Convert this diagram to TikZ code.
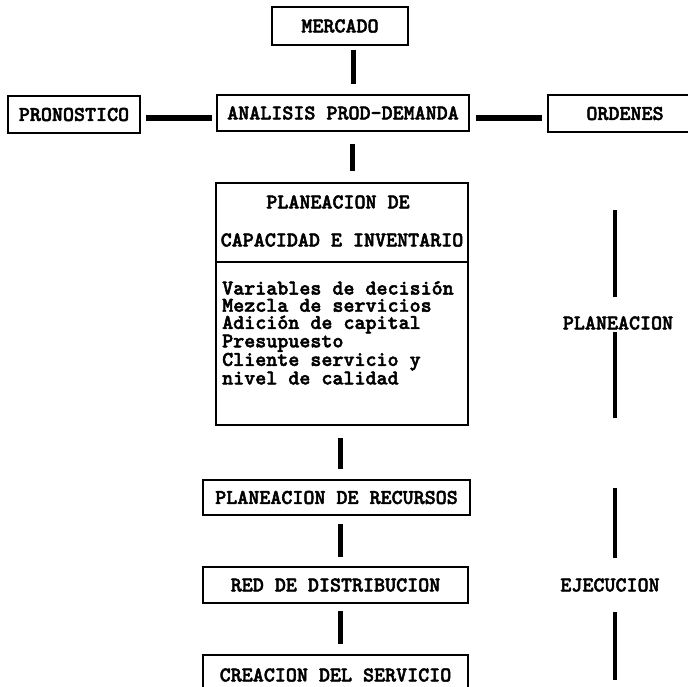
\documentclass[tikz,border=0pt]{standalone}
\usepackage{fontspec}
\newfontfamily\typerbold{lmmonolt10-bold}[Extension=.otf, FakeBold=2.2]
\usetikzlibrary{calc}
\begin{document}
\begin{tikzpicture}[x=1pt,y=1pt,
  every node/.style={inner sep=0pt, font=\typerbold\fontsize{21}{17.2}\selectfont},
  box/.style={draw, line width=1.1pt, align=center},
  vbar/.style={line width=5pt},
  hbar/.style={line width=6.5pt},
  sidebar/.style={line width=4.5pt}]
\useasboundingbox (0,0) rectangle (688,-686);
\clip (0,0) rectangle (688,-686);

% top row
\node[box, minimum width=136pt, minimum height=38pt] (mercado) at (340,-26) {MERCADO};
\node[box, minimum width=132pt, minimum height=37pt] (pron) at (74,-114.5) {PRONOSTICO};
\node[box, minimum width=252pt, minimum height=36pt] (anal) at (343,-113) {ANALISIS PROD-DEMANDA};
\node[box, minimum width=154pt, minimum height=37pt] (ord) at (625,-113.5) {ORDENES};

% planning block: heading part and list part
\node[box, minimum width=252pt, minimum height=79pt] (plantop) at (342,-222.5) {};
\node (pt1) at (338,-202) {PLANEACION DE};
\node (pt2) at (342,-240) {CAPACIDAD E INVENTARIO};
\node[box, minimum width=252pt, minimum height=163pt] (planbot) at (342,-343.5) {};
\node[anchor=north west, align=left] (vars) at (222,-281)
  {Variables de decisión\\Mezcla de servicios\\Adición de capital\\Presupuesto\\Cliente servicio y\\nivel de calidad};

% lower chain
\node[box, minimum width=267pt, minimum height=35pt] (recursos) at (336.5,-497.5) {PLANEACION DE RECURSOS};
\node[box, minimum width=265pt, minimum height=36pt] (red) at (335.5,-585) {RED DE DISTRIBUCION};
\node[box, minimum width=265pt, minimum height=40pt] (creacion) at (335.5,-675) {CREACION DEL SERVICIO};

% vertical connectors
\draw[vbar] ([xshift=13pt,yshift=-4pt]mercado.south) -- ([xshift=10pt,yshift=10pt]anal.north);
\draw[vbar] ([xshift=9pt,yshift=-12pt]anal.south) -- ([xshift=10pt,yshift=11pt]plantop.north);
\draw[vbar] ([xshift=-2pt,yshift=-12pt]planbot.south) -- ([xshift=3.5pt,yshift=10pt]recursos.north);
\draw[vbar] ([xshift=3.5pt,yshift=-8pt]recursos.south) -- ([xshift=4.5pt,yshift=9pt]red.north);
\draw[vbar] ([xshift=4.5pt,yshift=-7pt]red.south) -- ([xshift=4.5pt,yshift=10pt]creacion.north);

% horizontal connectors
\draw[hbar] ([xshift=5pt,yshift=-3.5pt]pron.east) -- ([xshift=-4pt,yshift=-5pt]anal.west);
\draw[hbar] ([xshift=6pt,yshift=-5pt]anal.east) -- ([xshift=-5pt,yshift=-4.5pt]ord.west);

% phase labels with their bars
\node (planlbl) at (618,-323) {PLANEACION};
\node (ejec) at (610,-585) {EJECUCION};
\draw[sidebar] ($(planlbl.center)+(-3,26)$) -- ++(0,87);
\draw[sidebar] ($(planlbl.center)+(-3,-9)$) -- ++(0,-86);
\draw[sidebar] ($(ejec.center)+(5,27)$) -- ++(0,70);
\draw[sidebar] ($(ejec.center)+(5,-27)$) -- ++(0,-68);
\end{tikzpicture}
\end{document}
